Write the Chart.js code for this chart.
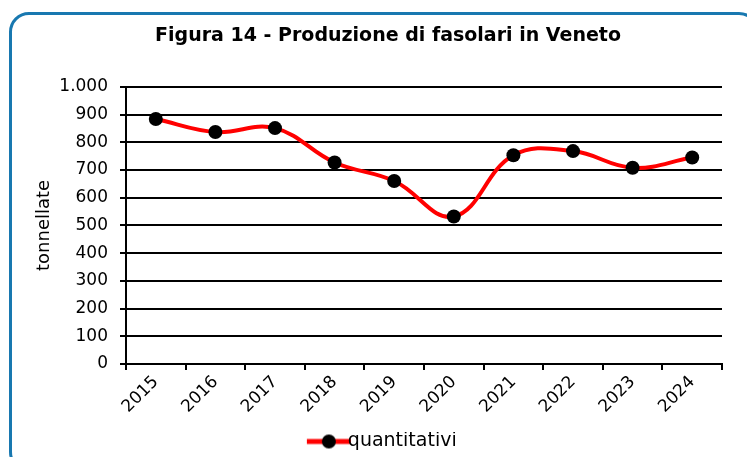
<!DOCTYPE html>
<html>
<head>
<meta charset="utf-8">
<script src="https://cdn.jsdelivr.net/npm/chart.js@4.4.1/dist/chart.umd.min.js"></script>
<style>
  html, body { margin: 0; padding: 0; background: #fff; overflow: hidden; }
  #wrap { position: relative; width: 747px; height: 457px; }
  #frame {
    position: absolute; left: 9px; top: 12px; width: 750px; height: 460px;
    border: 3px solid #1878b0; border-radius: 20px; box-sizing: border-box;
  }
  canvas { position: absolute; left: 0; top: 0; }
</style>
</head>
<body>
<div id="wrap">
  <div id="frame"></div>
  <canvas id="chart" width="747" height="457"></canvas>
</div>
<script>
// Dati produzione fasolari (tonnellate)
const anni = ['2015', '2016', '2017', '2018', '2019', '2020', '2021', '2022', '2023', '2024'];
const quantitativi = [884, 837, 851, 727, 660, 532, 753, 768, 708, 745];

const font = 'DejaVu Sans';

// icona legenda: linea rossa con pallino nero
const legendIcon = document.createElement('canvas');
legendIcon.width = 48;
legendIcon.height = 16;
const ic = legendIcon.getContext('2d');
ic.strokeStyle = '#ff0000';
ic.lineWidth = 5;
ic.beginPath();
ic.moveTo(2, 8);
ic.lineTo(46, 8);
ic.stroke();
ic.fillStyle = '#000';
ic.beginPath();
ic.arc(24, 8, 7, 0, Math.PI * 2);
ic.fill();

const ctx = document.getElementById('chart').getContext('2d');
new Chart(ctx, {
    type: 'line',
    data: {
        labels: anni,
        datasets: [{
            label: 'quantitativi',
            data: quantitativi,
            borderColor: '#ff0000',
            borderWidth: 4,
            tension: 0.4,
            pointRadius: 7,
            pointBackgroundColor: '#000',
            pointBorderColor: '#000',
            pointBorderWidth: 0,
            pointHoverRadius: 7
        }]
    },
    options: {
        responsive: false,
        animation: false,
        layout: { padding: { left: 29, right: 0, top: 0, bottom: -4 } },
        plugins: {
            title: {
                display: true,
                text: 'Figura 14 - Produzione di fasolari in Veneto',
                color: '#000',
                font: { family: font, size: 19, weight: 'bold' },
                padding: { top: 25, bottom: 39 }
            },
            legend: {
                position: 'bottom',
                labels: {
                    color: '#000',
                    font: { family: font, size: 19 },
                    usePointStyle: true,
                    boxWidth: 48,
                    boxHeight: 16,
                    padding: 0,
                    generateLabels: chart => [{
                        text: 'quantitativi',
                        pointStyle: legendIcon,
                        fontColor: '#000',
                        datasetIndex: 0
                    }]
                }
            },
            tooltip: { enabled: false }
        },
        scales: {
            x: {
                offset: true,
                grid: {
                    display: true,
                    drawOnChartArea: false,
                    offset: true,
                    color: '#000',
                    lineWidth: 2,
                    tickLength: 6
                },
                border: { color: '#000', width: 2 },
                ticks: {
                    color: '#000',
                    font: { family: font, size: 17 },
                    minRotation: 45,
                    maxRotation: 45,
                    padding: 2
                },
                afterFit: scale => { scale.height = 68; }
            },
            y: {
                min: 0,
                max: 1000,
                ticks: {
                    stepSize: 100,
                    color: '#000',
                    font: { family: font, size: 17 },
                    padding: 12,
                    callback: v => v.toLocaleString('it-IT', { useGrouping: true }).replace(/\s/g, '')
                },
                grid: {
                    color: '#000',
                    lineWidth: 2,
                    tickLength: 6
                },
                border: { color: '#000', width: 2 },
                title: {
                    display: true,
                    text: 'tonnellate',
                    color: '#000',
                    font: { family: font, size: 18 },
                    padding: { top: 5, bottom: 0 }
                },
                afterFit: scale => { scale.width = 97; }
            },
            // asse vuoto a destra, solo per lo spazio
            yDx: {
                position: 'right',
                display: true,
                min: 0,
                max: 1000,
                grid: { display: false },
                border: { display: false },
                ticks: { display: false },
                afterFit: scale => { scale.width = 25; }
            }
        }
    }
});
</script>
</body>
</html>
